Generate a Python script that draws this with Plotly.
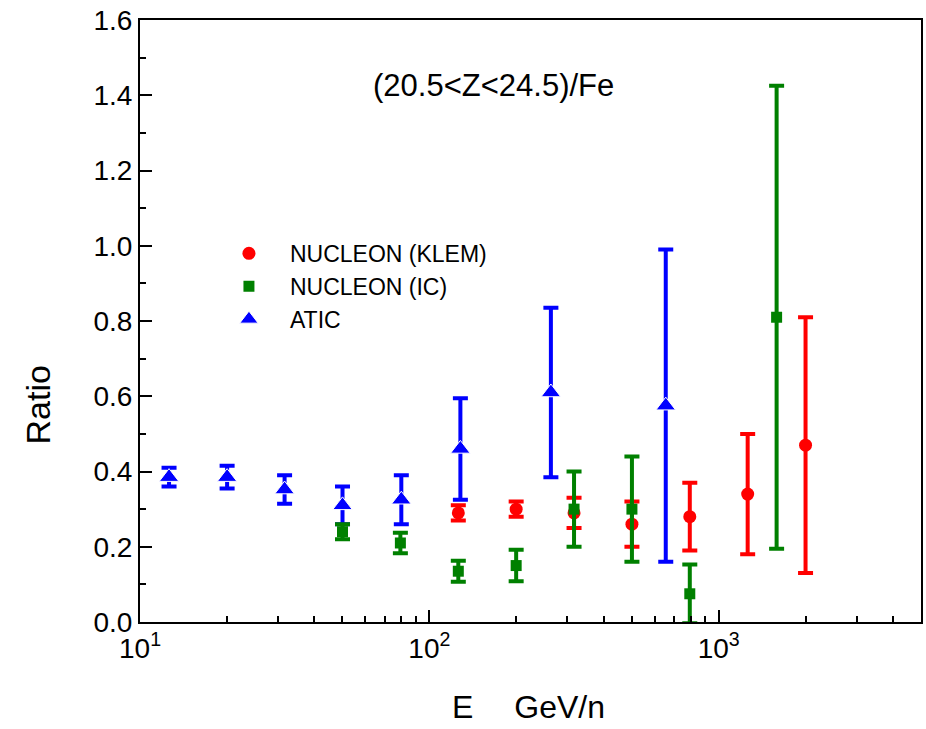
import plotly.graph_objects as go

# NUCLEON (KLEM) ratio points
klem_e = [125.9, 199.5, 316.2, 501.2, 794.3, 1258.9, 1995.3]
klem_r = [0.29, 0.30, 0.29, 0.26, 0.28, 0.34, 0.47]
klem_err = [0.02, 0.02, 0.04, 0.06, 0.09, 0.16, 0.34]

# NUCLEON (IC) ratio points
ic_e = [50.1, 79.4, 125.9, 199.5, 316.2, 501.2, 794.3, 1584.9]
ic_r = [0.24, 0.21, 0.135, 0.15, 0.30, 0.30, 0.075, 0.81]
ic_err = [0.02, 0.027, 0.028, 0.042, 0.10, 0.14, 0.078, 0.615]

# ATIC ratio points
atic_e = [12.6, 20.0, 31.6, 50.1, 80.0, 128.0, 263.0, 656.0]
atic_r = [0.385, 0.385, 0.352, 0.31, 0.325, 0.46, 0.61, 0.575]
atic_err = [0.025, 0.03, 0.038, 0.05, 0.065, 0.135, 0.225, 0.415]

x_tickvals = [10, 100, 1000]
x_ticktext = ["10<sup>1</sup>", "10<sup>2</sup>", "10<sup>3</sup>"]
x_minor = [v * d for d in (10, 100, 1000) for v in range(2, 10) if v * d <= 5000]

FONT = "Liberation Sans, Arial, sans-serif"


def err(vals, color):
    return dict(type="data", array=vals, visible=True, color=color,
                thickness=4, width=7.5)


fig = go.Figure()

fig.add_trace(go.Scatter(
    x=atic_e, y=atic_r, mode="markers", name="ATIC", legendrank=3,
    marker=dict(symbol="triangle-up", size=17, color="#0000ff",
                line=dict(color="white", width=1)),
    error_y=err(atic_err, "#0000ff"),
))
fig.add_trace(go.Scatter(
    x=klem_e, y=klem_r, mode="markers", name="NUCLEON (KLEM)", legendrank=1,
    marker=dict(symbol="circle", size=13, color="#ff0000"),
    error_y=err(klem_err, "#ff0000"),
))
fig.add_trace(go.Scatter(
    x=ic_e, y=ic_r, mode="markers", name="NUCLEON (IC)", legendrank=2,
    marker=dict(symbol="square", size=11, color="#008000"),
    error_y=err(ic_err, "#008000"),
))

fig.update_xaxes(
    type="log", range=[1, 3.699],
    tickvals=x_tickvals, ticktext=x_ticktext,
    ticks="inside", ticklen=12, tickwidth=2, tickcolor="black",
    minor=dict(tickvals=x_minor, ticks="inside", ticklen=6, tickwidth=2,
               tickcolor="black"),
    showline=True, linewidth=2, linecolor="black", mirror=True,
    showgrid=False, zeroline=False,
    tickfont=dict(family=FONT, size=28, color="black"),
)
fig.update_yaxes(
    range=[0, 1.6], dtick=0.2, tick0=0, tickformat=".1f",
    ticks="inside", ticklen=12, tickwidth=2, tickcolor="black",
    minor=dict(dtick=0.1, ticks="inside", ticklen=6, tickwidth=2,
               tickcolor="black"),
    showline=True, linewidth=2, linecolor="black", mirror=True,
    showgrid=False, zeroline=False,
    tickfont=dict(family=FONT, size=28, color="black"),
)

fig.add_annotation(
    text="(20.5&lt;Z&lt;24.5)/Fe", xref="paper", yref="paper",
    x=0.452, y=0.892, xanchor="center", yanchor="middle", showarrow=False,
    font=dict(family=FONT, size=31, color="black"),
)
fig.add_annotation(
    text="Ratio", xref="paper", yref="paper", textangle=-90,
    x=-0.130, y=0.3605, xanchor="center", yanchor="middle", showarrow=False,
    font=dict(family=FONT, size=34, color="black"),
)
fig.add_annotation(
    text="E\u2003 GeV/n", xref="paper", yref="paper",
    x=0.498, y=-0.175, xanchor="center", yanchor="bottom", showarrow=False,
    font=dict(family=FONT, size=32, color="black"),
)

fig.update_layout(
    width=926, height=729,
    margin=dict(l=140, r=3, t=20, b=107),
    paper_bgcolor="white", plot_bgcolor="white",
    showlegend=True,
    legend=dict(
        x=0.087, y=0.648, xanchor="left", yanchor="top",
        font=dict(family=FONT, size=23, color="black"),
        bgcolor="rgba(0,0,0,0)", itemwidth=72, tracegroupgap=0,
    ),
)

fig.write_html("out.html")
